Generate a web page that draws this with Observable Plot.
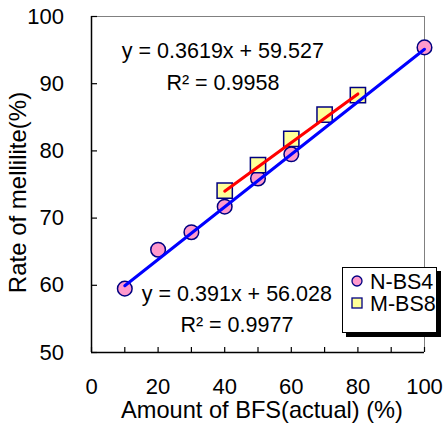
<!DOCTYPE html>
<html>
<head>
<meta charset="utf-8">
<script src="https://cdn.jsdelivr.net/npm/d3@7"></script>
<script src="https://cdn.jsdelivr.net/npm/@observablehq/plot@0.6"></script>
<style>
  html, body { margin: 0; padding: 0; background: #fff; }
  #wrap { position: relative; width: 444px; height: 425px; font-family: "Liberation Sans", Arial, sans-serif; }
  #legend { position: absolute; left: 342px; top: 267px; width: 93px; height: 64px;
            border: 1px solid #000; background: #fff; box-shadow: 4px 4px 0 #000; }
  #legend svg { display: block; }
</style>
</head>
<body>
<div id="wrap"><div id="legend"></div></div>
<script>
// ---- data ----
const seriesNames = ["N-BS4", "M-BS8"];
const bfsN  = [10, 20, 30, 40, 50, 60, 100];
const rateN = [59.5, 65.3, 67.9, 71.7, 75.9, 79.5, 95.4];
const bfsM  = [40, 50, 60, 70, 80];
const rateM = [74.1, 77.9, 81.8, 85.4, 88.3];
const fitN = { slope: 0.391,  intercept: 56.028, r2: 0.9977 };
const fitM = { slope: 0.3619, intercept: 59.527, r2: 0.9958 };
const xTicks = [0, 20, 40, 60, 80, 100];
const xMinorTicks = [0, 10, 20, 30, 40, 50, 60, 70, 80, 90, 100];
const yTicks = [50, 60, 70, 80, 90, 100];
const xLabel = "Amount of BFS(actual) (%)";
const yLabel = "Rate of mellilite(%)";

// ---- derived tables ----
const ptsN = bfsN.map((x, i) => ({ x, y: rateN[i] }));
const ptsM = bfsM.map((x, i) => ({ x, y: rateM[i] }));
const trend = (xs, f) => d3.extent(xs).map(x => ({ x, y: f.slope * x + f.intercept }));
const trendN = trend(bfsN, fitN);
const trendM = trend(bfsM, fitM);
const eqText = f => `y = ${f.slope}x + ${f.intercept}`;
const r2Text = f => `R² = ${f.r2}`;

const FONT = "'Liberation Sans', Arial, sans-serif";
const FS_TICK = 22, FS_ANN = 21.5;
const annotations = [
  { x: 39.45, y: 94.9, text: eqText(fitM) },
  { x: 39.45, y: 90.1, text: r2Text(fitM) },
  { x: 43.65, y: 58.7, text: eqText(fitN) },
  { x: 43.65, y: 54.06, text: r2Text(fitN) }
];

const chart = Plot.plot({
  width: 444, height: 425,
  marginLeft: 91, marginRight: 20, marginTop: 16, marginBottom: 73,
  x: { domain: [0, 100] },
  y: { domain: [50, 100] },
  style: { fontFamily: FONT, fontSize: FS_TICK + "px", color: "#000", background: "#fff" },
  marks: [
    Plot.ruleY([100], { stroke: "#808080", strokeWidth: 1 }),
    Plot.ruleX([100], { stroke: "#808080", strokeWidth: 1 }),
    Plot.axisX(xMinorTicks, { tickSize: -5, tickFormat: () => "", stroke: "#000", strokeWidth: 1.2, label: null }),
    Plot.axisX(xTicks, { tickSize: 0, tickPadding: 25.5, fontSize: FS_TICK, label: null, tickFormat: d => d }),
    Plot.axisY(yTicks, { tickSize: -6, tickFormat: () => "", stroke: "#000", strokeWidth: 1.2, label: null }),
    Plot.axisY(yTicks, { tickSize: 0, tickPadding: 27.5, fontSize: FS_TICK, label: null, tickFormat: d => d }),
    Plot.ruleX([0], { stroke: "#000", strokeWidth: 1.5 }),
    Plot.ruleY([50], { stroke: "#000", strokeWidth: 1.5 }),
    Plot.dot(ptsN, { x: "x", y: "y", r: 7.3, symbol: "circle", fill: "#FF99CC", stroke: "#000080", strokeWidth: 1.5 }),
    Plot.dot(ptsM, { x: "x", y: "y", r: 8.6, symbol: "square", fill: "#FFFF99", stroke: "#000080", strokeWidth: 1.5 }),
    Plot.line(trendN, { x: "x", y: "y", stroke: "#0000FF", strokeWidth: 3 }),
    Plot.line(trendM, { x: "x", y: "y", stroke: "#FF0000", strokeWidth: 3 }),
    Plot.text(annotations, { x: "x", y: "y", text: "text", fontSize: FS_ANN, textAnchor: "middle", lineAnchor: "middle", fill: "#000" }),
    Plot.text([xLabel], { frameAnchor: "bottom", textAnchor: "middle", dx: 4, dy: 57.5, fontSize: 23.6, lineAnchor: "middle", fill: "#000" }),
    Plot.text([yLabel], { frameAnchor: "left", textAnchor: "middle", dx: -73, dy: 8, rotate: -90, fontSize: 24, lineAnchor: "middle", fill: "#000" })
  ]
});
document.getElementById("wrap").insertBefore(chart, document.getElementById("legend"));

// ---- legend ----
const lg = d3.select("#legend").append("svg").attr("width", 93).attr("height", 64);
const rows = [
  { name: seriesNames[0], sym: "circle", fill: "#FF99CC" },
  { name: seriesNames[1], sym: "square", fill: "#FFFF99" }
];
rows.forEach((r, i) => {
  const cy = 13 + i * 22;
  if (r.sym === "circle") {
    lg.append("circle").attr("cx", 14).attr("cy", cy).attr("r", 5).attr("fill", r.fill).attr("stroke", "#000080").attr("stroke-width", 1.3);
  } else {
    lg.append("rect").attr("x", 9).attr("y", cy - 5).attr("width", 10).attr("height", 10).attr("fill", r.fill).attr("stroke", "#000080").attr("stroke-width", 1.3);
  }
  lg.append("text").attr("x", 27).attr("y", cy + 7.5).attr("font-size", FS_ANN).attr("font-family", FONT).attr("fill", "#000").text(r.name);
});
</script>
</body>
</html>
